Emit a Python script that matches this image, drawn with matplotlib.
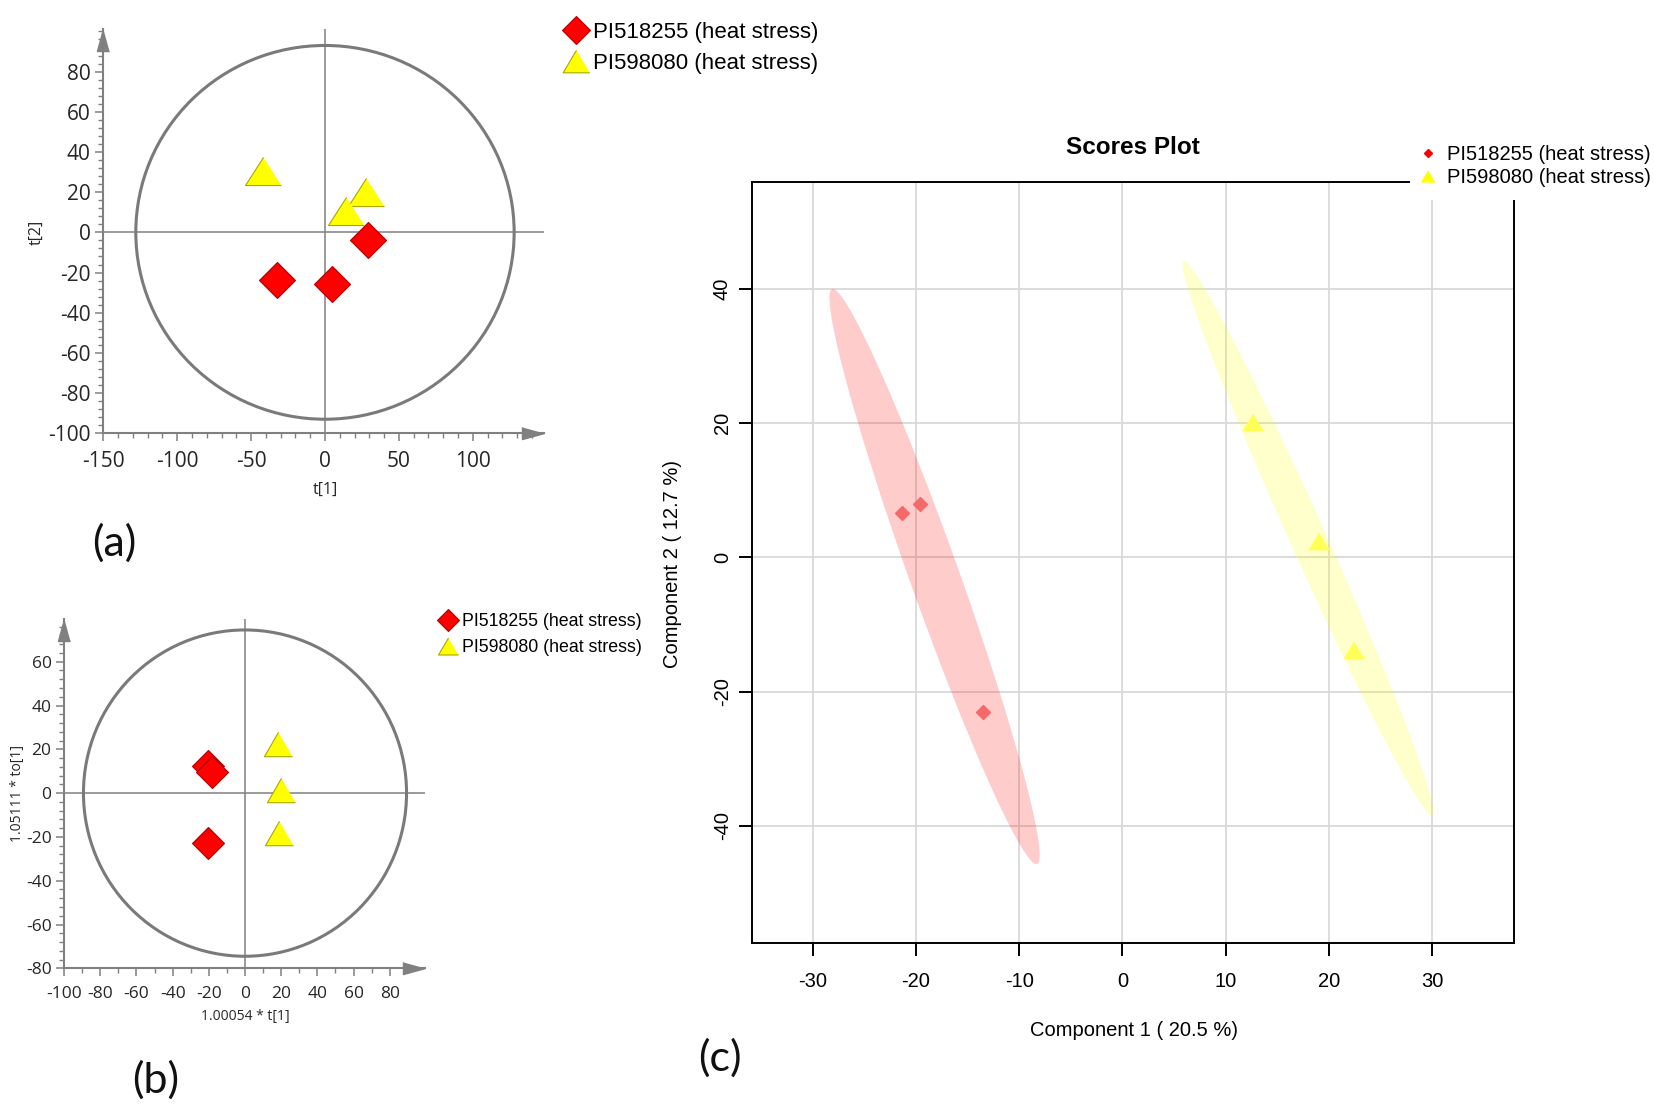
import numpy as np
import matplotlib
matplotlib.use('Agg')
import matplotlib.pyplot as plt
from matplotlib.patches import Ellipse, Rectangle
from matplotlib.lines import Line2D
from matplotlib.ticker import MultipleLocator

plt.rcParams['axes.unicode_minus'] = False

W, H = 1654, 1113

groups = ['PI518255 (heat stress)', 'PI598080 (heat stress)']

# (a) OPLS-DA style scores t[1] / t[2]
a_red_x = [-32.5, 4.5, 29.0]
a_red_y = [-23.8, -25.6, -3.6]
a_yel_x = [-42.0, 28.0, 14.0]
a_yel_y = [30.3, 20.3, 10.5]
a_ell = (128, 93)
a_xticks = [-150, -100, -50, 0, 50, 100]
a_yticks = [-100, -80, -60, -40, -20, 0, 20, 40, 60, 80]

# (b) predictive vs orthogonal scores
b_red_x = [-20.5, -18.3, -20.5]
b_red_y = [12.5, 9.7, -22.7]
b_yel_x = [18.3, 19.9, 19.0]
b_yel_y = [22.2, 1.2, -18.4]
b_ell = (89.3, 74.5)
b_xticks = [-100, -80, -60, -40, -20, 0, 20, 40, 60, 80]
b_yticks = [-80, -60, -40, -20, 0, 20, 40, 60]

# (c) PLS-DA scores plot
c_red_x = [-21.4, -19.6, -13.55]
c_red_y = [6.55, 7.98, -23.1]
c_yel_x = [12.65, 19.05, 22.4]
c_yel_y = [20.2, 2.44, -13.8]
# centre x, centre y, semi major, semi minor, angle
c_red_ell = (-18.2, -2.85, 43.98, 2.49, 103.0)
c_yel_ell = (17.99, 2.83, 43.05, 1.84, 106.25)
c_xticks = [-30, -20, -10, 0, 10, 20, 30]
c_yticks = [-40, -20, 0, 20, 40]

GRAY = '#808080'
TXT = '#262626'
SEGOE = ['Open Sans', 'DejaVu Sans']
ARIAL = ['Liberation Sans', 'DejaVu Sans']
CALIBRI = ['Lato', 'DejaVu Sans']

fig = plt.figure(figsize=(W / 100, H / 100), dpi=100)


def px_axes(left, top, right, bottom):
    return fig.add_axes([left / W, 1 - bottom / H, (right - left) / W, (bottom - top) / H])


def ftext(x, y, s, **kw):
    return fig.text(x / W, 1 - y / H, s, ha='center', va='center', **kw)


def tri(ratio):
    return [(0, ratio), (-1, -ratio), (1, -ratio)]


arrow_r = [(0, 0), (-2, -0.55), (-2, 0.55)]
arrow_u = [(0, 0), (-0.55, -2), (0.55, -2)]


def simca_axes(ax, xlim, ylim, xticks, yticks, ell, fs):
    ax.set_xlim(xlim)
    ax.set_ylim(ylim)
    ax.add_patch(Ellipse((0, 0), 2 * ell[0], 2 * ell[1], fill=False, ec='#7a7a7a', lw=2.2, zorder=2))
    ax.axhline(0, color=GRAY, lw=1.1, zorder=1)
    ax.axvline(0, color=GRAY, lw=1.1, zorder=1)
    for s in ['top', 'right']:
        ax.spines[s].set_visible(False)
    for s in ['left', 'bottom']:
        ax.spines[s].set_color(GRAY)
        ax.spines[s].set_linewidth(1.5)
    ax.set_xticks(xticks)
    ax.set_yticks(yticks)
    ax.xaxis.set_minor_locator(MultipleLocator(10))
    ax.yaxis.set_minor_locator(MultipleLocator(4))
    ax.tick_params(which='major', length=6, width=1.1, color=GRAY, labelsize=fs, labelcolor=TXT, pad=3)
    ax.tick_params(which='minor', length=3.5, width=1.0, color=GRAY)
    for lbl in ax.get_xticklabels() + ax.get_yticklabels():
        lbl.set_family(SEGOE)
    ax.tick_params(axis='x', pad=7)
    ax.plot([1], [0], marker=arrow_r, ms=31.7, color=GRAY, transform=ax.transAxes, clip_on=False)
    ax.plot([0], [1], marker=arrow_u, ms=31.7, color=GRAY, transform=ax.transAxes, clip_on=False)


# ---------------- (a)
ax_a = px_axes(103.3, 29.4, 543.7, 433.3)
simca_axes(ax_a, (-150, 148), (-100, 101), a_xticks, a_yticks, a_ell, 15)
ax_a.plot(a_red_x, a_red_y, ls='none', marker='D', ms=18.8, mfc='#ff0000', mec='#b00000', mew=0.8, zorder=4)
ax_a.plot(a_yel_x, a_yel_y, ls='none', marker=tri(0.78), ms=25.9, mfc='#ffff00', mec='#a8a800', mew=0.8, zorder=4)
ftext(325, 490, 't[1]', fontsize=11.5, family=SEGOE, color=TXT)
ftext(37, 232, 't[2]', fontsize=11.5, family=SEGOE, color=TXT, rotation=90)

h_a = [Line2D([], [], ls='none', marker='D', ms=14.3, mfc='#ff0000', mec='#b00000', mew=0.8),
       Line2D([], [], ls='none', marker=tri(0.85), ms=19.2, mfc='#ffff00', mec='#a8a800', mew=0.8)]
fig.legend(h_a, groups, loc='upper left', bbox_to_anchor=(563.4 / W, 1 - 22 / H), frameon=False,
           borderpad=0, borderaxespad=0, handlelength=1.135, handletextpad=0.2, labelspacing=0.45,
           prop={'family': ARIAL, 'size': 16})
ftext(114, 543, '(a)', fontsize=31, family=CALIBRI, color='#111111')

# ---------------- (b)
ax_b = px_axes(64.1, 619, 425, 968.3)
simca_axes(ax_b, (-100, 99.5), (-80, 79.5), b_xticks, b_yticks, b_ell, 12.5)
ax_b.plot(b_red_x, b_red_y, ls='none', marker='D', ms=15.8, mfc='#ff0000', mec='#b00000', mew=0.8, zorder=4)
ax_b.plot(b_yel_x, b_yel_y, ls='none', marker=tri(0.87), ms=20.2, mfc='#ffff00', mec='#a8a800', mew=0.8, zorder=4)
ftext(245.7, 1016.7, '1.00054 * t[1]', fontsize=10, family=SEGOE, color=TXT)
ftext(18, 793, '1.05111 * to[1]', fontsize=10, family=SEGOE, color=TXT, rotation=90)

h_b = [Line2D([], [], ls='none', marker='D', ms=10.7, mfc='#ff0000', mec='#b00000', mew=0.8),
       Line2D([], [], ls='none', marker=tri(0.85), ms=14.4, mfc='#ffff00', mec='#a8a800', mew=0.8)]
fig.legend(h_b, groups, loc='upper left', bbox_to_anchor=(437.1 / W, 1 - 613 / H), frameon=False,
           borderpad=0, borderaxespad=0, handlelength=1.27, handletextpad=0.15, labelspacing=0.52,
           prop={'family': ARIAL, 'size': 12.8})
ftext(156, 1080, '(b)', fontsize=31, family=CALIBRI, color='#111111')

# ---------------- (c)
ax_c = px_axes(751.9, 181.5, 1513.6, 942.7)
ax_c.set_xlim(-35.9, 37.9)
ax_c.set_ylim(-57.4, 56.0)
ax_c.set_axisbelow(True)
ax_c.grid(True, color='#d9d9d9', lw=1.3)
for (cx, cy, a, b, ang), col in [(c_red_ell, (1, 0, 0, 0.2)), (c_yel_ell, (1, 1, 0, 0.2))]:
    ax_c.add_patch(Ellipse((cx, cy), 2 * a, 2 * b, angle=ang, fc=col, ec='none', zorder=2))
ax_c.plot(c_red_x, c_red_y, ls='none', marker='D', ms=7.6, color='#f46a6a', zorder=3)
ax_c.plot(c_yel_x, c_yel_y, ls='none', marker=tri(0.82), ms=14.4, color='#ffff55', zorder=3)
ax_c.set_xticks(c_xticks)
ax_c.set_yticks(c_yticks)
for s in ax_c.spines.values():
    s.set_linewidth(1.4)
    s.set_color('black')
ax_c.tick_params(length=9.4, width=1.4, labelsize=14.5, colors='black')
ax_c.tick_params(axis='x', pad=12)
ax_c.tick_params(axis='y', pad=5)
for lbl in ax_c.get_xticklabels() + ax_c.get_yticklabels():
    lbl.set_family(ARIAL)
for lbl in ax_c.get_yticklabels():
    lbl.set_rotation(90)
    lbl.set_va('center')
ftext(1133, 148, 'Scores Plot', fontsize=17.5, weight='bold', family=ARIAL)
ftext(1134, 1030, 'Component 1 ( 20.5 %)', fontsize=14.5, family=ARIAL)
ftext(672.8, 563.6, 'Component 2 ( 12.7 %)', fontsize=14.5, family=ARIAL, rotation=90)

# white legend box that cuts the top right corner of the frame
fig.patches.append(Rectangle((1410 / W, 1 - 200 / H), (W - 1410) / W, 75 / H, transform=fig.transFigure,
                             fc='white', ec='none', zorder=1))
h_c = [Line2D([], [], ls='none', marker='D', ms=4.2, color='#ff0000'),
       Line2D([], [], ls='none', marker=tri(0.82), ms=9.4, color='#ffff00')]
fig.legend(h_c, groups, loc='upper left', bbox_to_anchor=(1417.9 / W, 1 - 145.5 / H), frameon=False,
           borderpad=0, borderaxespad=0, handlelength=1.035, handletextpad=0.4, labelspacing=0.17,
           prop={'family': ARIAL, 'size': 14.5})
ftext(720, 1058, '(c)', fontsize=31, family=CALIBRI, color='#111111')

fig.savefig('out.png', dpi=100)
